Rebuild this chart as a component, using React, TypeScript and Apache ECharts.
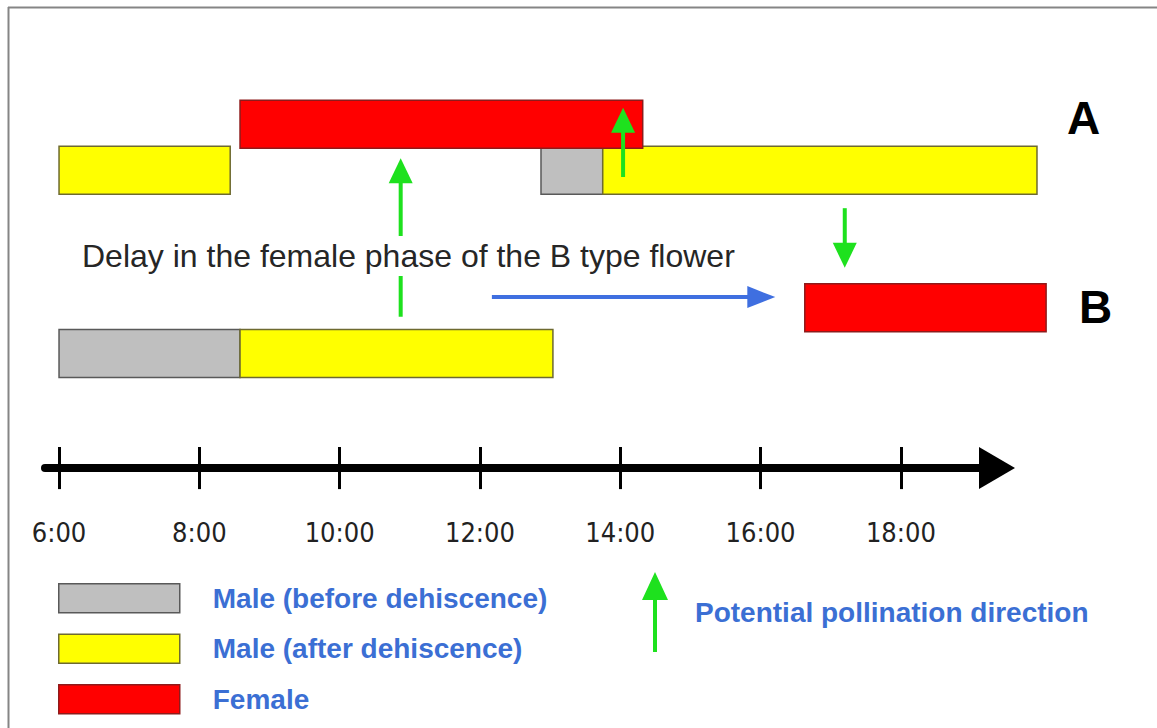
import React, { useEffect, useRef } from 'react';
import * as echarts from 'echarts';

// ---------- data ----------
const HOUR_TICKS = [6, 8, 10, 12, 14, 16, 18];
// lane index on the vertical value axis
const LANES = ['B male', 'B female', '', '', 'A male', 'A female'];
// bars: [start hour, end hour, lane index]
const MALE_BEFORE = [
  [12.87, 13.75, 4],
  [6.0, 8.58, 0],
];
const MALE_AFTER = [
  [6.0, 8.44, 4],
  [13.75, 19.94, 4],
  [8.58, 13.04, 0],
];
const FEMALE = [
  [8.58, 14.32, 5],
  [16.63, 20.07, 1],
];
// pollination arrows: [hour, from lane, to lane]
const POLLINATION = [
  [10.87, 0.8, 4.26],
  [14.04, 3.85, 5.36],
  [17.2, 3.17, 1.87],
];
// delay arrow: [from hour, to hour, lane]
const DELAY = [[12.17, 16.21, 1.23]];
const DELAY_TEXT = 'Delay in the female phase of the B type flower';
const SERIES_NAMES = ['Male (before dehiscence)', 'Male (after dehiscence)', 'Female'];
const ARROW_NAME = 'Potential pollination direction';

// ---------- style ----------
const FONT = '"Liberation Sans", Arial, sans-serif';
const NARROW = '"Liberation Sans Narrow", "DejaVu Sans Condensed", "Liberation Sans", sans-serif';
const GRAY = '#BFBFBF';
const YELLOW = '#FFFF00';
const RED = '#FF0000';
const GREEN = '#1EE11E';
const BLUE = '#3F6FE0';
const LEGEND_BLUE = '#3B6FD4';
const BAR_H = 48;
const X_MIN = 5.8;
const X_MAX = 19.37;

const barRender = (fill: string, stroke: string) => (params: any, api: any) => {
  const s = api.coord([api.value(0), api.value(2)]);
  const e = api.coord([api.value(1), api.value(2)]);
  return {
    type: 'rect',
    shape: { x: s[0], y: s[1] - BAR_H / 2, width: e[0] - s[0], height: BAR_H },
    style: { fill, stroke, lineWidth: 1.5 },
  };
};

const vArrowRender = (params: any, api: any) => {
  const a = api.coord([api.value(0), api.value(1)]);
  const b = api.coord([api.value(0), api.value(2)]);
  const dir = b[1] < a[1] ? -1 : 1;
  const headLen = 25;
  const headW = 24;
  const baseY = b[1] - dir * headLen;
  return {
    type: 'group',
    children: [
      { type: 'line', shape: { x1: a[0], y1: a[1], x2: a[0], y2: baseY + dir * 2 }, style: { stroke: GREEN, lineWidth: 4 } },
      {
        type: 'polygon',
        shape: { points: [[b[0], b[1]], [b[0] - headW / 2, baseY], [b[0] + headW / 2, baseY]] },
        style: { fill: GREEN },
      },
    ],
  };
};

const hArrowRender = (params: any, api: any) => {
  const a = api.coord([api.value(0), api.value(2)]);
  const b = api.coord([api.value(1), api.value(2)]);
  const headLen = 28;
  const headW = 22;
  const baseX = b[0] - headLen;
  return {
    type: 'group',
    children: [
      { type: 'line', shape: { x1: a[0], y1: a[1], x2: baseX + 2, y2: a[1] }, style: { stroke: BLUE, lineWidth: 4 } },
      {
        type: 'polygon',
        shape: { points: [[b[0], b[1]], [baseX, b[1] - headW / 2], [baseX, b[1] + headW / 2]] },
        style: { fill: BLUE },
      },
    ],
  };
};

export default function App() {
  const ref = useRef<HTMLDivElement>(null);
  useEffect(() => {
    if (!ref.current) return;
    const chart = echarts.init(ref.current, undefined, { renderer: 'svg' });
    const tickStyle = { color: '#000', width: 3 };
    chart.setOption({
      animation: false,
      backgroundColor: '#fff',
      grid: [
        { left: 45, right: 160, top: 78.46, height: 389.64 },
        { left: 45, right: 160, top: 447, height: 21 },
      ],
      xAxis: [
        {
          type: 'value', gridIndex: 0, min: X_MIN, max: X_MAX, position: 'bottom',
          axisLine: { show: true, onZero: false, symbol: ['none', 'triangle'], symbolSize: [42, 36], lineStyle: { color: '#000', width: 8 } },
          axisTick: { show: true, inside: false, length: 21, lineStyle: tickStyle, customValues: HOUR_TICKS },
          axisLabel: {
            show: true, customValues: HOUR_TICKS, margin: 51,
            formatter: (v: number) => `${v}:00`,
            fontFamily: NARROW, fontSize: 27, color: '#222',
          },
          splitLine: { show: false },
        },
        {
          type: 'value', gridIndex: 1, min: X_MIN, max: X_MAX, position: 'bottom',
          axisLine: { show: false, onZero: false },
          axisTick: { show: true, inside: true, length: 21, lineStyle: tickStyle, customValues: HOUR_TICKS },
          axisLabel: { show: false },
          splitLine: { show: false },
        },
      ],
      yAxis: [
        { type: 'value', gridIndex: 0, min: -2.5, max: LANES.length, show: false },
        { type: 'value', gridIndex: 1, min: 0, max: 1, show: false },
      ],
      legend: [
        {
          left: 58, top: 583, orient: 'vertical', padding: 0,
          itemWidth: 121, itemHeight: 29, itemGap: 20, icon: 'rect', selectedMode: false,
          textStyle: { fontFamily: FONT, fontSize: 28, fontWeight: 'bold', color: LEGEND_BLUE, padding: [0, 0, 0, 28] },
          data: [
            { name: SERIES_NAMES[0], itemStyle: { color: GRAY, borderColor: '#595959', borderWidth: 1.5 } },
            { name: SERIES_NAMES[1], itemStyle: { color: YELLOW, borderColor: '#6E6A30', borderWidth: 1.5 } },
            { name: SERIES_NAMES[2], itemStyle: { color: RED, borderColor: '#8E1B1B', borderWidth: 1.5 } },
          ],
        },
        {
          left: 642, top: 572, orient: 'vertical', padding: 0, selectedMode: false,
          itemWidth: 26, itemHeight: 80,
          textStyle: { fontFamily: FONT, fontSize: 28, fontWeight: 'bold', color: LEGEND_BLUE, padding: [0, 0, 0, 22] },
          data: [
            {
              name: ARROW_NAME,
              icon: 'path://M13,0 L26,28 L15,28 L15,80 L11,80 L11,28 L0,28 Z',
              itemStyle: { color: GREEN, borderWidth: 0 },
            },
          ],
        },
      ],
      series: [
        {
          name: SERIES_NAMES[0], type: 'custom', xAxisIndex: 0, yAxisIndex: 0, clip: false,
          itemStyle: { color: GRAY }, renderItem: barRender(GRAY, '#595959'),
          encode: { x: [0, 1], y: 2 }, data: MALE_BEFORE, z: 2,
        },
        {
          name: SERIES_NAMES[1], type: 'custom', xAxisIndex: 0, yAxisIndex: 0, clip: false,
          itemStyle: { color: YELLOW }, renderItem: barRender(YELLOW, '#6E6A30'),
          encode: { x: [0, 1], y: 2 }, data: MALE_AFTER, z: 2,
        },
        {
          name: SERIES_NAMES[2], type: 'custom', xAxisIndex: 0, yAxisIndex: 0, clip: false,
          itemStyle: { color: RED }, renderItem: barRender(RED, '#8E1B1B'),
          encode: { x: [0, 1], y: 2 }, data: FEMALE, z: 3,
        },
        {
          name: ARROW_NAME, type: 'custom', xAxisIndex: 0, yAxisIndex: 0, clip: false,
          itemStyle: { color: GREEN }, renderItem: vArrowRender,
          encode: { x: 0, y: [1, 2] }, data: POLLINATION, z: 4,
        },
        {
          name: 'Delay', type: 'custom', xAxisIndex: 0, yAxisIndex: 0, clip: false,
          itemStyle: { color: BLUE }, renderItem: hArrowRender,
          encode: { x: [0, 1], y: 2 }, data: DELAY, z: 4,
        },
      ],
      graphic: [
        { type: 'line', z: 100, shape: { x1: 8.5, y1: 7, x2: 8.5, y2: 728 }, style: { stroke: '#858585', lineWidth: 2 } },
        { type: 'line', z: 100, shape: { x1: 8, y1: 7.5, x2: 1157, y2: 7.5 }, style: { stroke: '#858585', lineWidth: 2 } },
        {
          type: 'text', z: 100, left: 82, top: 236,
          style: { text: DELAY_TEXT, font: `32px ${FONT}`, fill: '#262626', backgroundColor: '#fff', padding: [4, 0] },
        },
        { type: 'text', z: 100, left: 1067, top: 95, style: { text: 'A', font: `bold 46px ${FONT}`, fill: '#000' } },
        { type: 'text', z: 100, left: 1079, top: 284, style: { text: 'B', font: `bold 46px ${FONT}`, fill: '#000' } },
      ],
    });
    return () => chart.dispose();
  }, []);
  return <div ref={ref} style={{ position: 'absolute', left: 0, top: 0, width: 1157, height: 728, background: '#fff' }} />;
}
